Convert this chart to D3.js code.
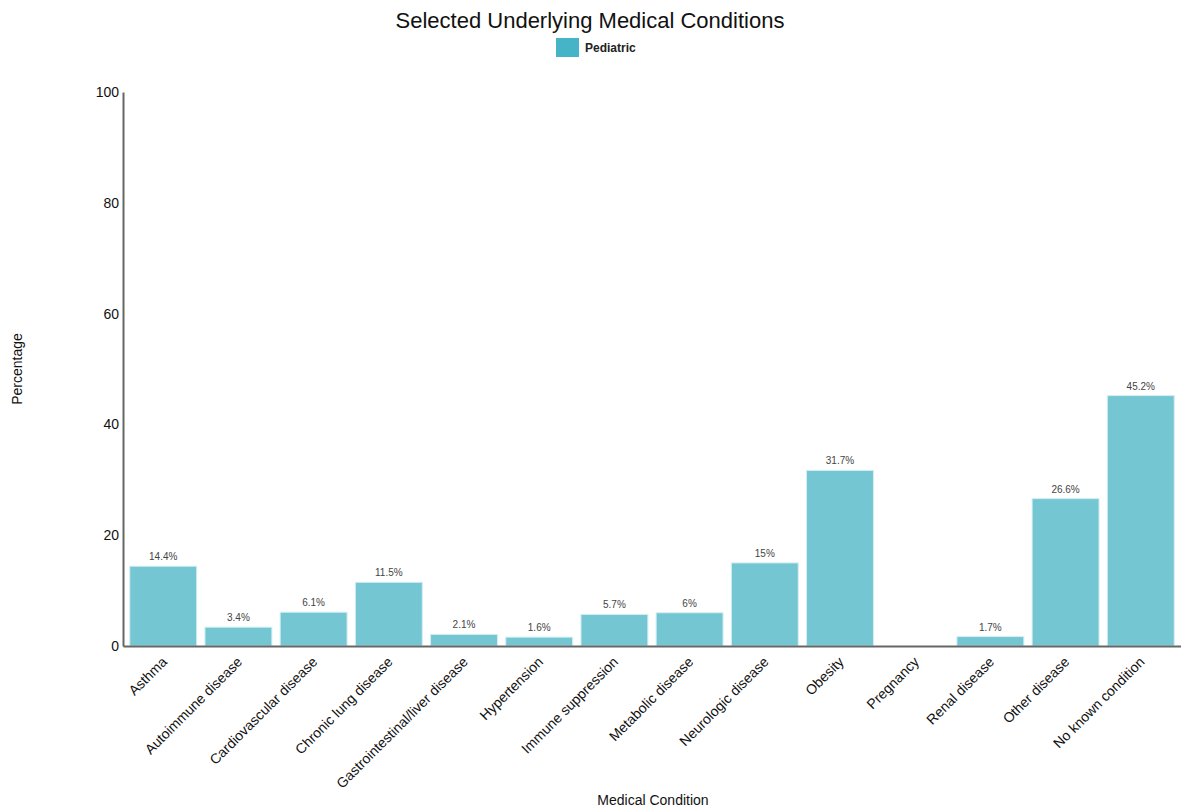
<!DOCTYPE html>
<html>
<head>
<meta charset="utf-8">
<script src="https://cdn.jsdelivr.net/npm/d3@7"></script>
<style>
  html, body { margin: 0; padding: 0; background: #fff; }
  svg { display: block; font-family: "Liberation Sans", Arial, Helvetica, sans-serif; }
</style>
</head>
<body>
<svg id="chart" width="1181" height="807"></svg>
<script>
const categories = [
  "Asthma", "Autoimmune disease", "Cardiovascular disease", "Chronic lung disease",
  "Gastrointestinal/liver disease", "Hypertension", "Immune suppression",
  "Metabolic disease", "Neurologic disease", "Obesity", "Pregnancy",
  "Renal disease", "Other disease", "No known condition"
];
const pediatric = [14.4, 3.4, 6.1, 11.5, 2.1, 1.6, 5.7, 6, 15, 31.7, 0, 1.7, 26.6, 45.2];
const yTicks = [0, 20, 40, 60, 80, 100];
const seriesName = "Pediatric";

const svg = d3.select("#chart");
const plot = { left: 123, right: 1181, top: 92, bottom: 646 };

const x = d3.scaleBand()
  .domain(categories)
  .range([plot.left, plot.right])
  .paddingInner(0.11)
  .paddingOuter(0.09);

const y = d3.scaleLinear().domain([0, 100]).range([plot.bottom, plot.top]);

// Title
svg.append("text")
  .attr("x", 590).attr("y", 28)
  .attr("text-anchor", "middle")
  .attr("font-size", 22)
  .attr("fill", "#111")
  .text("Selected Underlying Medical Conditions");

// Legend
svg.append("rect")
  .attr("x", 556).attr("y", 38).attr("width", 23).attr("height", 19)
  .attr("fill", "#45b4c6");
svg.append("text")
  .attr("x", 585).attr("y", 52)
  .attr("font-size", 12)
  .attr("font-weight", "bold")
  .attr("fill", "#222")
  .text(seriesName);

// Bars
const rows = categories.map((c, i) => ({ c, v: pediatric[i] }));
svg.append("g").selectAll("rect")
  .data(rows)
  .join("rect")
  .attr("x", d => x(d.c))
  .attr("width", x.bandwidth())
  .attr("y", d => y(d.v))
  .attr("height", d => y(0) - y(d.v))
  .attr("fill", "#74c6d3")
  .attr("stroke", "#d4eef3")
  .attr("stroke-width", 1);

// Value labels
svg.append("g").selectAll("text")
  .data(rows.filter(d => d.v > 0))
  .join("text")
  .attr("x", d => x(d.c) + x.bandwidth() / 2)
  .attr("y", d => y(d.v) - 6)
  .attr("text-anchor", "middle")
  .attr("font-size", 10)
  .attr("fill", "#444")
  .text(d => d.v + "%");

// Y axis
const yAxis = svg.append("g")
  .attr("transform", `translate(${plot.left},0)`)
  .call(d3.axisLeft(y).tickValues(yTicks).tickSize(0).tickPadding(4));
yAxis.select(".domain").attr("stroke", "#666").attr("stroke-width", 2);
yAxis.selectAll("text")
  .attr("font-size", 14)
  .attr("fill", "#111")
  .attr("font-family", "'Liberation Sans', Arial, sans-serif");

// X axis
const xAxis = svg.append("g")
  .attr("transform", `translate(0,${plot.bottom})`)
  .call(d3.axisBottom(x).tickSize(0).tickPadding(6));
xAxis.select(".domain").attr("stroke", "#666").attr("stroke-width", 2);
xAxis.selectAll("text")
  .attr("font-size", 14)
  .attr("fill", "#111")
  .attr("font-family", "'Liberation Sans', Arial, sans-serif")
  .attr("text-anchor", "end")
  .attr("dy", "0.35em")
  .attr("transform", "translate(-3,9) rotate(-45)");

// Axis titles
svg.append("text")
  .attr("x", 653).attr("y", 805)
  .attr("text-anchor", "middle")
  .attr("font-size", 14)
  .attr("fill", "#111")
  .text("Medical Condition");

svg.append("text")
  .attr("transform", "translate(22,369) rotate(-90)")
  .attr("text-anchor", "middle")
  .attr("font-size", 14)
  .attr("fill", "#111")
  .text("Percentage");
</script>
</body>
</html>
